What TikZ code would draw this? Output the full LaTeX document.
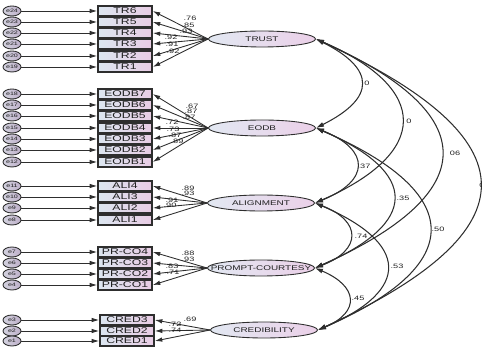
\documentclass[tikz,border=0pt]{standalone}
\usepackage{fontspec}
\setmainfont{Liberation Sans}
\newfontfamily\amosfont[FakeStretch=1.45]{Liberation Sans}
\usetikzlibrary{arrows.meta,shapes.geometric}
\definecolor{ink}{HTML}{202020}
\definecolor{edge}{HTML}{2E2E2E}
\definecolor{boxleft}{HTML}{DCE6F0}
\definecolor{boxright}{HTML}{E8CCE4}
\definecolor{latleft}{HTML}{E2E8F2}
\definecolor{latright}{HTML}{EBD0E8}
\definecolor{errleft}{HTML}{D2D2DE}
\definecolor{errright}{HTML}{BFB0CA}

\begin{document}
\begin{tikzpicture}[
  x=0.02cm,y=-0.02cm,
  errnode/.style={ellipse,draw=edge,line width=0.5pt,left color=errleft,
                  right color=errright,minimum width=0.36cm,minimum height=0.2cm,
                  inner sep=0pt,font=\amosfont\fontsize{2.8}{3}\selectfont,text=ink},
  itembox/.style={rectangle,draw=edge,line width=0.9pt,left color=boxleft,
                  right color=boxright,minimum width=1.08cm,minimum height=0.2cm,
                  inner sep=0pt,font=\amosfont\fontsize{4.8}{5}\selectfont,text=ink},
  latent/.style={ellipse,draw=edge,line width=0.5pt,left color=latleft,
                 right color=latright,minimum width=2.14cm,minimum height=0.32cm,
                 inner xsep=-12pt,inner ysep=0pt,
                 font=\amosfont\fontsize{3.9}{4}\selectfont,text=ink},
  load/.style={-{Latex[length=1.5mm,width=0.9mm]},draw=edge,line width=0.5pt},
  corr/.style={{Latex[length=1.6mm,width=1mm]}-{Latex[length=1.6mm,width=1mm]},
               draw=edge,line width=0.6pt},
  coef/.style={font=\amosfont\fontsize{3.6}{4}\selectfont,text=ink,inner sep=0pt}
]
\useasboundingbox (0,0) rectangle (482,350);
\clip (0,0) rectangle (482,350);

% -------------------------------------------------------------------------
% Latent factors.
\node[latent] (trust)  at (262,39)  {TRUST};
\node[latent] (eodb)   at (262,128) {EODB};
\node[latent] (align)  at (261,203) {ALIGNMENT};
\node[latent] (prompt) at (261,268) {PROMPT-COURTESY};
\node[latent] (cred)   at (264,330) {CREDIBILITY};

% -------------------------------------------------------------------------
% TRUST items.
\node[itembox] (tr6) at (125,11) {TR6};
\node[itembox] (tr5) at (125,22) {TR5};
\node[itembox] (tr4) at (125,33) {TR4};
\node[itembox] (tr3) at (125,44) {TR3};
\node[itembox] (tr2) at (125,56) {TR2};
\node[itembox] (tr1) at (125,67) {TR1};
\node[errnode] (etr6) at (12,11) {e24};
\node[errnode] (etr5) at (12,22) {e23};
\node[errnode] (etr4) at (12,33) {e22};
\node[errnode] (etr3) at (12,44) {e21};
\node[errnode] (etr2) at (12,56) {e20};
\node[errnode] (etr1) at (12,67) {e19};
\draw[load] (etr6)--(tr6); \draw[load] (etr5)--(tr5); \draw[load] (etr4)--(tr4);
\draw[load] (etr3)--(tr3); \draw[load] (etr2)--(tr2); \draw[load] (etr1)--(tr1);
\draw[load] (trust.west)--(tr6.east); \draw[load] (trust.west)--(tr5.east);
\draw[load] (trust.west)--(tr4.east); \draw[load] (trust.west)--(tr3.east);
\draw[load] (trust.west)--(tr2.east); \draw[load] (trust.west)--(tr1.east);
\node[coef] (ltr6) at (190,18) {.76};
\node[coef] (ltr5) at (188,25) {.85};
\node[coef] (ltr4) at (186,31) {.93};
\node[coef] (ltr3) at (171,37) {.92};
\node[coef] (ltr2) at (172,44) {.91};
\node[coef] (ltr1) at (173,51) {.92};

% -------------------------------------------------------------------------
% EODB items.
\node[itembox] (eodb7) at (125,94)  {EODB7};
\node[itembox] (eodb6) at (125,105) {EODB6};
\node[itembox] (eodb5) at (125,116) {EODB5};
\node[itembox] (eodb4) at (125,128) {EODB4};
\node[itembox] (eodb3) at (125,139) {EODB3};
\node[itembox] (eodb2) at (125,150) {EODB2};
\node[itembox] (eodb1) at (125,162) {EODB1};
\node[errnode] (eeodb7) at (12,94)  {e18};
\node[errnode] (eeodb6) at (12,105) {e17};
\node[errnode] (eeodb5) at (12,116) {e16};
\node[errnode] (eeodb4) at (12,128) {e15};
\node[errnode] (eeodb3) at (12,139) {e14};
\node[errnode] (eeodb2) at (12,150) {e13};
\node[errnode] (eeodb1) at (12,162) {e12};
\draw[load] (eeodb7)--(eodb7); \draw[load] (eeodb6)--(eodb6);
\draw[load] (eeodb5)--(eodb5); \draw[load] (eeodb4)--(eodb4);
\draw[load] (eeodb3)--(eodb3); \draw[load] (eeodb2)--(eodb2);
\draw[load] (eeodb1)--(eodb1);
\draw[load] (eodb.west)--(eodb7.east); \draw[load] (eodb.west)--(eodb6.east);
\draw[load] (eodb.west)--(eodb5.east); \draw[load] (eodb.west)--(eodb4.east);
\draw[load] (eodb.west)--(eodb3.east); \draw[load] (eodb.west)--(eodb2.east);
\draw[load] (eodb.west)--(eodb1.east);
\node[coef] (leodb7) at (192,106) {.67};
\node[coef] (leodb6) at (191,111) {.87};
\node[coef] (leodb5) at (189,117) {.87};
\node[coef] (leodb4) at (172,122) {.72};
\node[coef] (leodb3) at (173,129) {.73};
\node[coef] (leodb2) at (175,135) {.87};
\node[coef] (leodb1) at (177,141) {.89};

% -------------------------------------------------------------------------
% ALIGNMENT items.
\node[itembox] (ali4) at (125,186) {ALI4};
\node[itembox] (ali3) at (125,197) {ALI3};
\node[itembox] (ali2) at (125,208) {ALI2};
\node[itembox] (ali1) at (125,220) {ALI1};
\node[errnode] (eali4) at (12,186) {e11};
\node[errnode] (eali3) at (12,197) {e10};
\node[errnode] (eali2) at (12,208) {e9};
\node[errnode] (eali1) at (12,220) {e8};
\draw[load] (eali4)--(ali4); \draw[load] (eali3)--(ali3);
\draw[load] (eali2)--(ali2); \draw[load] (eali1)--(ali1);
\draw[load] (align.west)--(ali4.east); \draw[load] (align.west)--(ali3.east);
\draw[load] (align.west)--(ali2.east); \draw[load] (align.west)--(ali1.east);
\node[coef] (lali4) at (188,188) {.89};
\node[coef] (lali3) at (188,193) {.93};
\node[coef] (lali2) at (172,200) {.91};
\node[coef] (lali1) at (170,205) {.90};

% -------------------------------------------------------------------------
% PROMPT-COURTESY items.
\node[itembox] (prco4) at (125,252) {PR-CO4};
\node[itembox] (prco3) at (125,263) {PR-CO3};
\node[itembox] (prco2) at (125,274) {PR-CO2};
\node[itembox] (prco1) at (125,285) {PR-CO1};
\node[errnode] (eprco4) at (12,252) {e7};
\node[errnode] (eprco3) at (12,263) {e6};
\node[errnode] (eprco2) at (12,274) {e5};
\node[errnode] (eprco1) at (12,285) {e4};
\draw[load] (eprco4)--(prco4); \draw[load] (eprco3)--(prco3);
\draw[load] (eprco2)--(prco2); \draw[load] (eprco1)--(prco1);
\draw[load] (prompt.west)--(prco4.east); \draw[load] (prompt.west)--(prco3.east);
\draw[load] (prompt.west)--(prco2.east); \draw[load] (prompt.west)--(prco1.east);
\node[coef] (lprco4) at (188,253) {.88};
\node[coef] (lprco3) at (188,259) {.93};
\node[coef] (lprco2) at (172,266) {.83};
\node[coef] (lprco1) at (173,272) {.71};

% -------------------------------------------------------------------------
% CREDIBILITY items.
\node[itembox] (cred3) at (127,320) {CRED3};
\node[itembox] (cred2) at (127,331) {CRED2};
\node[itembox] (cred1) at (127,341) {CRED1};
\node[errnode] (ecred3) at (12,320) {e3};
\node[errnode] (ecred2) at (12,331) {e2};
\node[errnode] (ecred1) at (12,341) {e1};
\draw[load] (ecred3)--(cred3); \draw[load] (ecred2)--(cred2);
\draw[load] (ecred1)--(cred1);
\draw[load] (cred.west)--(cred3.east); \draw[load] (cred.west)--(cred2.east);
\draw[load] (cred.west)--(cred1.east);
\node[coef] (lcred3) at (190,319) {.69};
\node[coef] (lcred2) at (175,324) {.72};
\node[coef] (lcred1) at (175,330) {.74};

% -------------------------------------------------------------------------
% Factor correlations.
\draw[corr] (trust.east) .. controls +(60,30) and +(60,-30) .. (eodb.east);
\draw[corr] (trust.east) .. controls +(115,50) and +(115,-50) .. (align.east);
\draw[corr] (trust.east) .. controls +(168,75) and +(168,-75) .. (prompt.east);
\draw[corr] (trust.east) .. controls +(217,100) and +(217,-100) .. (cred.east);
\draw[corr] (eodb.east) .. controls +(55,22) and +(55,-22) .. (align.east);
\draw[corr] (eodb.east) .. controls +(104,45) and +(104,-45) .. (prompt.east);
\draw[corr] (eodb.east) .. controls +(150,65) and +(150,-65) .. (cred.east);
\draw[corr] (align.east) .. controls +(47,18) and +(47,-18) .. (prompt.east);
\draw[corr] (align.east) .. controls +(94,40) and +(94,-40) .. (cred.east);
\draw[corr] (prompt.east) .. controls +(43,18) and +(43,-18) .. (cred.east);

\node[coef] (rte) at (367,83)  {0};
\node[coef] (rta) at (409,121) {0};
\node[coef] (rtp) at (455,153) {06};
\node[coef,anchor=west] (rtc) at (479,185) {0};
\node[coef] (rea) at (364,166) {.37};
\node[coef] (rep) at (403,198) {.35};
\node[coef] (rec) at (438,229) {.50};
\node[coef] (rap) at (361,236) {.74};
\node[coef] (rac) at (397,266) {.53};
\node[coef] (rpc) at (358,298) {.45};

\end{tikzpicture}
\end{document}
